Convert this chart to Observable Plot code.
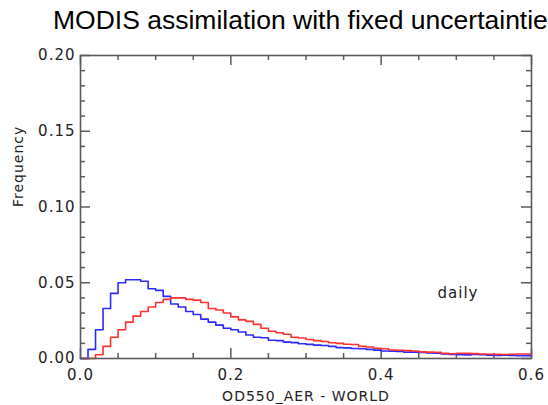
<!DOCTYPE html>
<html>
<head>
<meta charset="utf-8">
<script src="https://cdn.jsdelivr.net/npm/d3@7"></script>
<script src="https://cdn.jsdelivr.net/npm/@observablehq/plot@0.6"></script>
<style>
  html, body { margin: 0; padding: 0; background: #fff; overflow: hidden; }
  #wrap { position: relative; width: 548px; height: 405px; overflow: hidden; }
  #title { position: absolute; left: 53px; top: 5px; white-space: nowrap;
           font-family: "Liberation Sans", Arial, sans-serif; font-size: 26.5px; color: #000; }
  #chart { position: absolute; left: 0; top: 40px; }
  #chart svg text { letter-spacing: 1px; }
</style>
</head>
<body>
<div id="wrap">
  <div id="title"></div>
  <div id="chart"></div>
</div>
<script>
const titleText = "MODIS assimilation with fixed uncertainties";
const xLabel = "OD550_AER - WORLD";
const yLabel = "Frequency";
const annotation = "daily";
const binWidth = 0.01;
const xMajorTicks = [0, 0.2, 0.4, 0.6];
const xMinorTicks = [0.05, 0.1, 0.15, 0.25, 0.3, 0.35, 0.45, 0.5, 0.55];
const yMajorTicks = [0, 0.05, 0.1, 0.15, 0.2];
const yMinorTicks = [0.01,0.02,0.03,0.04,0.06,0.07,0.08,0.09,0.11,0.12,0.13,0.14,0.16,0.17,0.18,0.19];

// Histogram frequencies, one per 0.01 bin from 0.00 to 0.60
const blueFreq = [
  0.000, 0.006, 0.019, 0.033, 0.043, 0.050, 0.052, 0.052, 0.051, 0.046,
  0.045, 0.041, 0.036, 0.034, 0.031, 0.029, 0.026, 0.024, 0.022, 0.020,
  0.019, 0.0175, 0.0155, 0.014, 0.0137, 0.012, 0.0118, 0.0108, 0.0105, 0.0097,
  0.0093, 0.0088, 0.0086, 0.0080, 0.0072, 0.0070, 0.0066, 0.0064, 0.0060, 0.0055,
  0.0050, 0.0048, 0.0046, 0.0042, 0.0042, 0.0040, 0.0036, 0.0035, 0.0030, 0.0027,
  0.0025, 0.0024, 0.0026, 0.0025, 0.0022, 0.0020, 0.0021, 0.0020, 0.0018, 0.0019
];
const redFreq = [
  0.000, 0.000, 0.0025, 0.008, 0.014, 0.019, 0.024, 0.028, 0.031, 0.034,
  0.037, 0.039, 0.040, 0.040, 0.039, 0.0385, 0.037, 0.033, 0.032, 0.030,
  0.0275, 0.0255, 0.0245, 0.0225, 0.020, 0.018, 0.017, 0.016, 0.014, 0.0135,
  0.0125, 0.0118, 0.0112, 0.0104, 0.0100, 0.0094, 0.0092, 0.0080, 0.0076, 0.0068,
  0.0064, 0.0056, 0.0054, 0.0052, 0.0050, 0.0044, 0.0042, 0.0041, 0.0034, 0.0031,
  0.0035, 0.0034, 0.0032, 0.0030, 0.0028, 0.0027, 0.0026, 0.0028, 0.0030, 0.0030
];

function stepRows(vals) {
  const rows = vals.map((v, i) => ({x: i * binWidth, y: v}));
  rows.push({x: vals.length * binWidth, y: vals[vals.length - 1]});
  return rows;
}

document.getElementById("title").textContent = titleText;

const W = 548, H = 365, mL = 80, mR = 17, mT = 15, mB = 47;
const frameW = W - mL - mR, frameH = H - mT - mB;
const axisColor = "#5a5a5a";
const textColor = "#222";

// inward tick marks: full-frame ticks trimmed with insets to the wanted length
function xTicks(values, len, side) {
  const cut = frameH - len;
  return Plot.tickX(values, {x: d => d, stroke: axisColor, strokeWidth: 1.5,
    insetTop: side === "bottom" ? cut : 0, insetBottom: side === "top" ? cut : 0});
}
function yTicks(values, len, side) {
  const cut = frameW - len;
  return Plot.tickY(values, {y: d => d, stroke: axisColor, strokeWidth: 1.5,
    insetRight: side === "left" ? cut : 0, insetLeft: side === "right" ? cut : 0});
}

const chart = Plot.plot({
  width: W,
  height: H,
  marginLeft: mL,
  marginRight: mR,
  marginTop: mT,
  marginBottom: mB,
  style: {fontFamily: "DejaVu Sans", fontSize: "15px", color: textColor, background: "#fff"},
  x: {domain: [0, 0.6], axis: null},
  y: {domain: [0, 0.2], axis: null},
  marks: [
    xTicks(xMajorTicks, 10, "bottom"),
    xTicks(xMinorTicks, 5, "bottom"),
    xTicks(xMajorTicks, 10, "top"),
    xTicks(xMinorTicks, 5, "top"),
    yTicks(yMajorTicks, 10, "left"),
    yTicks(yMinorTicks, 5, "left"),
    yTicks(yMajorTicks, 10, "right"),
    yTicks(yMinorTicks, 5, "right"),
    Plot.axisX({ticks: xMajorTicks, tickFormat: d3.format(".1f"), tickSize: 0, tickPadding: 11, label: null, fill: textColor}),
    Plot.axisY({ticks: yMajorTicks, tickFormat: d3.format(".2f"), tickSize: 0, tickPadding: 5, label: null, fill: textColor}),
    Plot.line(stepRows(blueFreq), {x: "x", y: "y", curve: "step-after", stroke: "#2a2aff", strokeWidth: 1.6}),
    Plot.line(stepRows(redFreq), {x: "x", y: "y", curve: "step-after", stroke: "#ff3030", strokeWidth: 1.6}),
    Plot.frame({stroke: axisColor, strokeWidth: 1.6}),
    Plot.text([annotation], {x: 0.475, y: 0.043, textAnchor: "start", lineAnchor: "middle", fill: textColor, fontSize: 15}),
    Plot.text([xLabel], {frameAnchor: "bottom", dy: 42, lineAnchor: "bottom", fill: textColor, fontSize: 14}),
    Plot.text([yLabel], {frameAnchor: "left", dx: -62, rotate: -90, fill: textColor, fontSize: 14})
  ]
});
document.getElementById("chart").appendChild(chart);
</script>
</body>
</html>
